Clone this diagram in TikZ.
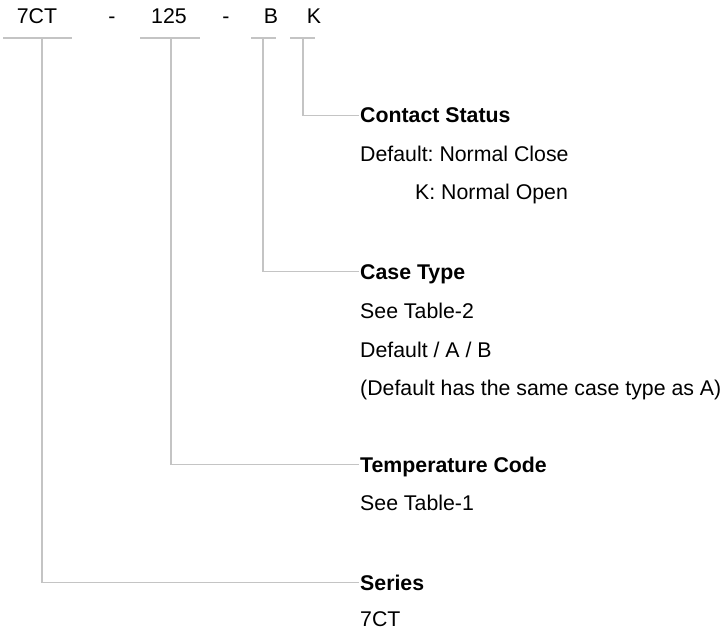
\documentclass[tikz,border=0pt]{standalone}
\usepackage{fontspec}
\setmainfont{Liberation Sans}
\frenchspacing
\begin{document}
\begin{tikzpicture}[x=1pt,y=-1pt,
  every node/.style={font=\fontsize{21.3}{25}\selectfont\frenchspacing, inner sep=0pt},
  code/.style={anchor=base},
  head/.style={anchor=base west, font=\fontsize{21.3}{25}\selectfont\bfseries, text height=15pt, text depth=0pt, inner xsep=1.5pt},
  desc/.style={anchor=base west},
  conn/.style={draw=black!23, line width=1.6pt}
]
\useasboundingbox (0,0) rectangle (724,634);
% top code
\node[code] (c7ct) at (37,24) {7CT};
\node[code] (d1) at (112,24) {-};
\node[code] (c125) at (169,24) {125};
\node[code] (d2) at (226,24) {-};
\node[code] (cB) at (271,24) {B};
\node[code] (cK) at (314,24) {K};
% underlines
\coordinate (u7a) at (3,38);   \coordinate (u7b) at (72,38);
\coordinate (u1a) at (140,38); \coordinate (u1b) at (200,38);
\coordinate (uBa) at (251,38); \coordinate (uBb) at (276,38);
\coordinate (uKa) at (290,38); \coordinate (uKb) at (315,38);
\draw[conn] (u7a) -- (u7b);
\draw[conn] (u1a) -- (u1b);
\draw[conn] (uBa) -- (uBb);
\draw[conn] (uKa) -- (uKb);
\coordinate (s7) at (42,38);
\coordinate (s1) at (171,38);
\coordinate (sB) at (263,38);
\coordinate (sK) at (303,38);
% Contact status
\node[head] (hcs) at (358.5,123) {Contact Status};
\node[desc] (dcs1) at (360,161) {Default: Normal Close};
\node[desc] (dcs2) at (415,200) {K: Normal Open};
% Case type
\node[head] (hct) at (358.5,279) {Case Type};
\node[desc] (dct1) at (360,318) {See Table-2};
\node[desc] (dct2) at (360,357) {Default / A / B};
\node[desc] (dct3) at (360,395) {(Default has the same case type as A)};
% Temperature
\node[head] (htc) at (358.5,472) {Temperature Code};
\node[desc] (dtc1) at (360,510) {See Table-1};
% Series
\node[head] (hse) at (358.5,590) {Series};
\node[desc] (dse1) at (360,626) {7CT};
% connectors
\draw[conn] (sK) |- (hcs.west);
\draw[conn] (sB) |- (hct.west);
\draw[conn] (s1) |- (htc.west);
\draw[conn] (s7) |- (hse.west);
\end{tikzpicture}
\end{document}
